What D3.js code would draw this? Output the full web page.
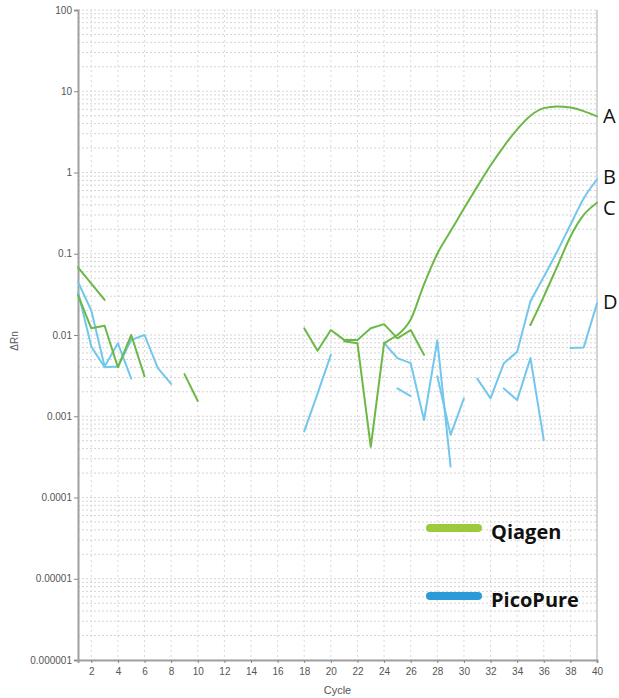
<!DOCTYPE html>
<html>
<head>
<meta charset="utf-8">
<script src="https://cdn.jsdelivr.net/npm/d3@7"></script>
<style>
  html, body { margin: 0; padding: 0; background: #fff; }
  svg { display: block; }
</style>
</head>
<body>
<div id="chart"></div>
<script>
// Amplification plot: ΔRn (log scale) against PCR cycle, Qiagen vs PicoPure runs.

// Axis ticks
const yTickValues = [1e-6, 1e-5, 1e-4, 1e-3, 1e-2, 1e-1, 1, 10, 100];
const yTickLabels = ["0.000001", "0.00001", "0.0001", "0.001", "0.01", "0.1", "1", "10", "100"];
const xTickValues = [2, 4, 6, 8, 10, 12, 14, 16, 18, 20, 22, 24, 26, 28, 30, 32, 34, 36, 38, 40];

// Qiagen runs: [cycle, ΔRn]
const qiagenEarly1 = [[1, 0.068], [2, 0.043], [3, 0.027]];
const qiagenEarly2 = [[1, 0.031], [2, 0.0121], [3, 0.013], [4, 0.0040], [5, 0.0100], [6, 0.0031]];
const qiagenEarly3 = [[9, 0.0033], [10, 0.00154]];
const qiagenMid = [[18, 0.0121], [19, 0.0064], [20, 0.0115], [21, 0.0087], [22, 0.0087],
                   [23, 0.0121], [24, 0.0136], [25, 0.0091], [26, 0.0115], [27, 0.0057]];
const qiagenA = [[21, 0.0084], [22, 0.0079], [23, 0.00042], [24, 0.0079], [25, 0.0100],
                 [26, 0.0155], [27, 0.042], [28, 0.10], [29, 0.19], [30, 0.36], [31, 0.67],
                 [32, 1.22], [33, 2.1], [34, 3.4], [35, 5.0], [36, 6.2], [37, 6.5],
                 [38, 6.3], [39, 5.7], [40, 4.9]];
const qiagenC = [[35, 0.0133], [36, 0.0297], [37, 0.069], [38, 0.162], [39, 0.30], [40, 0.425]];

// PicoPure runs: [cycle, ΔRn]
const picoEarly1 = [[1, 0.045], [2, 0.020], [3, 0.0041], [4, 0.0079], [5, 0.0029]];
const picoEarly2 = [[1, 0.034], [2, 0.0072], [3, 0.0040], [4, 0.0041], [5, 0.0087],
                    [6, 0.0100], [7, 0.0039], [8, 0.0025]];
const picoMid1 = [[18, 0.00065], [19, 0.0019], [20, 0.0057]];
const picoMid2 = [[24, 0.0080], [25, 0.0052], [26, 0.0045], [27, 0.0009], [28, 0.0086], [29, 0.00024]];
const picoMid3 = [[25, 0.0022], [26, 0.00177]];
const picoMid4 = [[28, 0.0031], [29, 0.00059], [30, 0.00166]];
const picoB = [[31, 0.0029], [32, 0.00166], [33, 0.0045], [34, 0.0062], [35, 0.026],
               [36, 0.052], [37, 0.106], [38, 0.226], [39, 0.48], [40, 0.82]];
const picoLate = [[33, 0.0022], [34, 0.00158], [35, 0.0052], [36, 0.00051]];
const picoD = [[38, 0.0069], [39, 0.0070], [40, 0.0245]];

const qiagenRuns = [qiagenEarly1, qiagenEarly2, qiagenEarly3, qiagenMid, qiagenA, qiagenC];
const picoRuns = [picoEarly1, picoEarly2, picoMid1, picoMid2, picoMid3, picoMid4, picoB, picoLate, picoD];

// End-of-run labels
const curveLabels = [["A", qiagenA], ["B", picoB], ["C", qiagenC], ["D", picoD]];
const legendNames = ["Qiagen", "PicoPure"];

// ---- drawing ----
const W = 619, H = 698;
const plot = { left: 78, right: 597, top: 10, bottom: 660 };
const qiagenColor = "#6cb846";
const picoColor = "#72c7ec";
const legendColors = ["#9dc93c", "#2a9ad8"];

const svg = d3.select("#chart").append("svg")
  .attr("width", W).attr("height", H)
  .style("font-family", "'Liberation Sans', Arial, sans-serif");

const x = d3.scaleLinear().domain([1, 40]).range([plot.left, plot.right]);
const y = d3.scaleLog().domain([1e-6, 100]).range([plot.bottom, plot.top]);

// Grid: dotted lines at every log minor step and at every even cycle
const minorY = [];
for (let e = -6; e < 2; e++) for (let m = 1; m <= 9; m++) minorY.push(m * Math.pow(10, e));
minorY.push(100);

const grid = svg.append("g");
grid.selectAll("line.h").data(minorY).join("line")
  .attr("x1", plot.left).attr("x2", plot.right)
  .attr("y1", d => y(d)).attr("y2", d => y(d))
  .attr("stroke", "#d4d4d4").attr("stroke-width", 1)
  .attr("stroke-dasharray", "2,2");
grid.selectAll("line.v").data(xTickValues).join("line")
  .attr("x1", d => x(d)).attr("x2", d => x(d))
  .attr("y1", plot.top).attr("y2", plot.bottom)
  .attr("stroke", "#d8d8d8").attr("stroke-width", 1)
  .attr("stroke-dasharray", "2,3");

// Right border of the plot area
svg.append("line")
  .attr("x1", plot.right).attr("x2", plot.right)
  .attr("y1", plot.top).attr("y2", plot.bottom)
  .attr("stroke", "#c8c8c8").attr("stroke-width", 1.5);

// Axes
const yAxis = svg.append("g")
  .attr("transform", `translate(${plot.left},0)`)
  .call(d3.axisLeft(y).tickValues(yTickValues)
    .tickFormat((d, i) => yTickLabels[i]).tickSize(4).tickPadding(2));
const xAxis = svg.append("g")
  .attr("transform", `translate(0,${plot.bottom})`)
  .call(d3.axisBottom(x).tickValues(xTickValues).tickSize(3).tickPadding(5));

[yAxis, xAxis].forEach(g => {
  g.select(".domain").attr("stroke", "#a0a0a0").attr("stroke-width", 2);
  g.selectAll(".tick line").attr("stroke", "#888");
  g.selectAll(".tick text").attr("fill", "#555").style("font-size", "10px")
    .style("font-family", "'Liberation Sans', Arial, sans-serif");
});

// Axis titles
svg.append("text")
  .attr("x", (plot.left + plot.right) / 2).attr("y", 694)
  .attr("text-anchor", "middle").attr("fill", "#555")
  .style("font-size", "11px").text("Cycle");
svg.append("text")
  .attr("transform", "translate(18,341) rotate(-90)")
  .attr("text-anchor", "middle").attr("fill", "#555")
  .style("font-size", "10px").text("ΔRn");

// Runs: smooth curves for the amplifying part, straight segments elsewhere
const smoothFrom = new Map([[qiagenA, 25], [qiagenC, 35], [picoB, 35]]);
const lineLinear = d3.line().x(d => x(d[0])).y(d => y(d[1]));
const lineSmooth = d3.line().x(d => x(d[0])).y(d => y(d[1])).curve(d3.curveMonotoneX);

function drawRuns(runs, color) {
  const g = svg.append("g").attr("fill", "none").attr("stroke", color)
    .attr("stroke-width", 2).attr("stroke-linejoin", "round").attr("stroke-linecap", "round");
  runs.forEach(run => {
    const from = smoothFrom.get(run);
    if (from === undefined) {
      g.append("path").attr("d", lineLinear(run));
    } else {
      g.append("path").attr("d", lineLinear(run.filter(d => d[0] <= from)));
      g.append("path").attr("d", lineSmooth(run.filter(d => d[0] >= from)));
    }
  });
}
drawRuns(picoRuns, picoColor);
drawRuns(qiagenRuns, qiagenColor);

// Curve letters at the final cycle; B and C are pushed apart so they do not collide
const labelNudge = { A: 0, B: -3, C: 5, D: -1 };
svg.append("g").selectAll("text").data(curveLabels).join("text")
  .attr("x", plot.right + 6)
  .attr("y", d => y(d[1][d[1].length - 1][1]) + 7 + labelNudge[d[0]])
  .attr("fill", "#111")
  .style("font-family", "'Open Sans', 'Noto Sans', sans-serif")
  .style("font-size", "20px")
  .text(d => d[0]);

// Legend
const legend = svg.append("g");
legendNames.forEach((name, i) => {
  const ly = 528 + i * 68;
  legend.append("line")
    .attr("x1", 430).attr("x2", 478).attr("y1", ly).attr("y2", ly)
    .attr("stroke", legendColors[i]).attr("stroke-width", 8).attr("stroke-linecap", "round");
  legend.append("text")
    .attr("x", 491).attr("y", ly + 11)
    .attr("fill", "#111")
    .style("font-family", "'Open Sans', 'Noto Sans', sans-serif")
    .style("font-weight", "bold").style("font-size", "20px")
    .text(name);
});
</script>
</body>
</html>
